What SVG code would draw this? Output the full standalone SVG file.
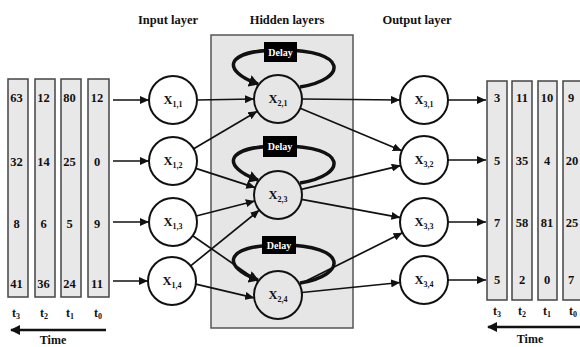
<svg xmlns="http://www.w3.org/2000/svg" width="580" height="347" viewBox="0 0 580 347">
<defs>
<style>
text{font-family:"Liberation Serif","Times New Roman",serif;font-weight:bold;fill:#111;}
.title{font-size:12.5px;text-anchor:middle;}
.val{font-size:12.5px;text-anchor:middle;}
.tl{font-size:12px;text-anchor:middle;}
.sub{font-size:8px;}
.col{fill:#e8e8e8;stroke:#444;stroke-width:1.5;}
.node{fill:#fff;stroke:#111;stroke-width:2;}
.hnode{fill:#e6e6e6;stroke:#111;stroke-width:2;}
.lbl{font-size:12.5px;text-anchor:middle;}
.edge{stroke:#111;stroke-width:1.7;fill:none;marker-end:url(#ah);}
.loop{stroke:#111;stroke-width:3.5;fill:none;marker-end:url(#ahb);}
.delay{fill:#000;}
.dtxt{fill:#fff;font-size:10px;text-anchor:middle;}
.time{stroke:#111;stroke-width:2.5;fill:none;marker-end:url(#aht);}
</style>
<marker id="ah" markerUnits="userSpaceOnUse" markerWidth="10" markerHeight="8" refX="9" refY="4" orient="auto"><path d="M0,0 L9,4 L0,8 z" fill="#111"/></marker>
<marker id="ahb" markerUnits="userSpaceOnUse" markerWidth="12" markerHeight="12" refX="9" refY="6" orient="auto"><path d="M0,0 L10,6 L0,12 z" fill="#111"/></marker>
<marker id="aht" markerUnits="userSpaceOnUse" markerWidth="10" markerHeight="10" refX="9" refY="5" orient="auto"><path d="M0,0 L10,5 L0,10 z" fill="#111"/></marker>
</defs>
<rect width="580" height="347" fill="#fff"/>

<g id="titles">
<text class="title" x="168" y="24">Input layer</text>
<text class="title" x="287" y="24">Hidden layers</text>
<text class="title" x="417" y="24">Output layer</text>
</g>

<g id="hidden-box"><rect x="211" y="35" width="142" height="293" fill="#e6e6e6" stroke="#555" stroke-width="1.5"/></g>

<g id="input-series">
<rect class="col" x="8" y="79" width="20" height="218"/>
<rect class="col" x="35" y="79" width="20" height="218"/>
<rect class="col" x="61" y="79" width="20" height="218"/>
<rect class="col" x="88" y="79" width="21" height="218"/>
<text class="val" x="16.5" y="102">63</text><text class="val" x="43.5" y="102">12</text><text class="val" x="69.5" y="102">80</text><text class="val" x="97" y="102">12</text>
<text class="val" x="16.5" y="166">32</text><text class="val" x="43.5" y="166">14</text><text class="val" x="69.5" y="166">25</text><text class="val" x="97" y="166">0</text>
<text class="val" x="16.5" y="228">8</text><text class="val" x="43.5" y="228">6</text><text class="val" x="69.5" y="228">5</text><text class="val" x="97" y="228">9</text>
<text class="val" x="16.5" y="288">41</text><text class="val" x="43.5" y="288">36</text><text class="val" x="69.5" y="288">24</text><text class="val" x="97" y="288">11</text>
<text class="tl" x="16" y="317">t<tspan class="sub" dy="2">3</tspan></text>
<text class="tl" x="44" y="317">t<tspan class="sub" dy="2">2</tspan></text>
<text class="tl" x="70" y="317">t<tspan class="sub" dy="2">1</tspan></text>
<text class="tl" x="98" y="317">t<tspan class="sub" dy="2">0</tspan></text>
<path class="time" d="M106,330 L11,330"/>
<text class="tl" x="53" y="344">Time</text>
</g>

<g id="output-series">
<rect class="col" x="487" y="81" width="20" height="219"/>
<rect class="col" x="512" y="81" width="20" height="219"/>
<rect class="col" x="538" y="81" width="19" height="219"/>
<rect class="col" x="563" y="81" width="20" height="219"/>
<text class="val" x="497" y="102">3</text><text class="val" x="522" y="102">11</text><text class="val" x="547" y="102">10</text><text class="val" x="571" y="102">9</text>
<text class="val" x="497" y="165">5</text><text class="val" x="522" y="165">35</text><text class="val" x="547" y="165">4</text><text class="val" x="572" y="165">20</text>
<text class="val" x="497" y="227">7</text><text class="val" x="522" y="227">58</text><text class="val" x="547" y="227">81</text><text class="val" x="572" y="227">25</text>
<text class="val" x="497" y="284">5</text><text class="val" x="522" y="284">2</text><text class="val" x="547" y="284">0</text><text class="val" x="571" y="284">7</text>
<text class="tl" x="497" y="315">t<tspan class="sub" dy="2">3</tspan></text>
<text class="tl" x="522" y="315">t<tspan class="sub" dy="2">2</tspan></text>
<text class="tl" x="547" y="315">t<tspan class="sub" dy="2">1</tspan></text>
<text class="tl" x="573" y="315">t<tspan class="sub" dy="2">0</tspan></text>
<path class="time" d="M582,327 L488,327"/>
<text class="tl" x="530" y="343">Time</text>
</g>

<g id="connectors">
<path class="edge" d="M113,100 L149,100"/>
<path class="edge" d="M113,161 L149,161"/>
<path class="edge" d="M113,222 L149,222"/>
<path class="edge" d="M113,281 L148,281"/>
<path class="edge" d="M197,100 L254,99"/>
<path class="edge" d="M193.7,148.8 L257.3,111.2"/>
<path class="edge" d="M195.8,168.4 L255.2,187.6"/>
<path class="edge" d="M196.2,216 L254.8,201"/>
<path class="edge" d="M192.7,235.7 L258.3,281.3"/>
<path class="edge" d="M190.6,265.9 L259.4,210.1"/>
<path class="edge" d="M195.8,284.1 L254.2,297.9"/>
<path class="edge" d="M302,99 L400,100"/>
<path class="edge" d="M300.2,108.3 L401.8,150.7"/>
<path class="edge" d="M301.3,189.4 L400.7,165.6"/>
<path class="edge" d="M301.6,199.4 L400.4,217.6"/>
<path class="edge" d="M299.5,284.3 L402.5,232.7"/>
<path class="edge" d="M301.9,292.5 L400.1,282.5"/>
<path class="edge" d="M447,100 L486,100"/>
<path class="edge" d="M447,160 L486,160"/>
<path class="edge" d="M447,222 L486,222"/>
<path class="edge" d="M447,280 L486,280"/>
<path class="loop" d="M300,87 C348,79 348,50 282,50 C222,50 222,71 258,84"/>
<path class="loop" d="M300,183 C348,175 348,146 282,146 C222,146 222,167 258,180"/>
<path class="loop" d="M300,283 C348,275 348,245 282,245 C222,245 222,267 258,280"/>
</g>

<g id="delay1"><rect class="delay" x="264" y="42" width="33" height="20"/><text class="dtxt" x="280.5" y="56">Delay</text></g>
<g id="delay2"><rect class="delay" x="263" y="136" width="34" height="21"/><text class="dtxt" x="280" y="150">Delay</text></g>
<g id="delay3"><rect class="delay" x="262" y="236" width="34" height="18"/><text class="dtxt" x="279" y="249">Delay</text></g>

<g id="x11"><circle class="node" cx="173" cy="100" r="24"/><text class="lbl" x="173" y="104">X<tspan class="sub" dy="3">1,1</tspan></text></g>
<g id="x12"><circle class="node" cx="173" cy="161" r="24"/><text class="lbl" x="173" y="165">X<tspan class="sub" dy="3">1,2</tspan></text></g>
<g id="x13"><circle class="node" cx="173" cy="222" r="24"/><text class="lbl" x="173" y="226">X<tspan class="sub" dy="3">1,3</tspan></text></g>
<g id="x14"><circle class="node" cx="172" cy="281" r="24"/><text class="lbl" x="172" y="285">X<tspan class="sub" dy="3">1,4</tspan></text></g>

<g id="x21"><circle class="hnode" cx="278" cy="99" r="24"/><text class="lbl" x="278" y="103">X<tspan class="sub" dy="3">2,1</tspan></text></g>
<g id="x23"><circle class="hnode" cx="278" cy="195" r="24"/><text class="lbl" x="278" y="199">X<tspan class="sub" dy="3">2,3</tspan></text></g>
<g id="x24"><circle class="hnode" cx="278" cy="295" r="24"/><text class="lbl" x="278" y="299">X<tspan class="sub" dy="3">2,4</tspan></text></g>

<g id="x31"><circle class="node" cx="424" cy="100" r="24"/><text class="lbl" x="424" y="104">X<tspan class="sub" dy="3">3,1</tspan></text></g>
<g id="x32"><circle class="node" cx="424" cy="160" r="24"/><text class="lbl" x="424" y="164">X<tspan class="sub" dy="3">3,2</tspan></text></g>
<g id="x33"><circle class="node" cx="424" cy="222" r="24"/><text class="lbl" x="424" y="226">X<tspan class="sub" dy="3">3,3</tspan></text></g>
<g id="x34"><circle class="node" cx="424" cy="280" r="24"/><text class="lbl" x="424" y="284">X<tspan class="sub" dy="3">3,4</tspan></text></g>
</svg>
